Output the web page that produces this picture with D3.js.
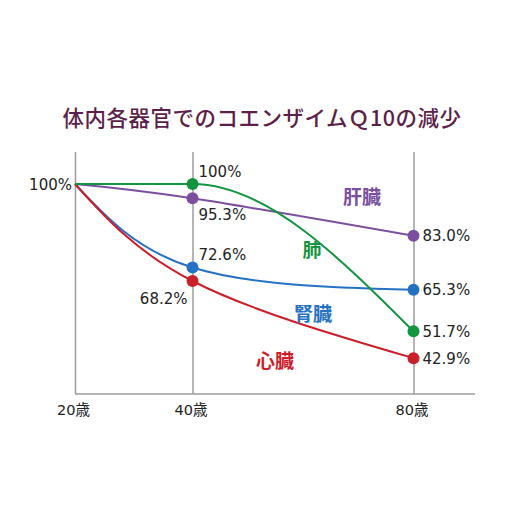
<!DOCTYPE html>
<html>
<head>
<meta charset="utf-8">
<script src="https://cdn.jsdelivr.net/npm/d3@7"></script>
<style>
  body { margin: 0; background: #fff; }
  svg { display: block; font-family: "Noto Sans CJK JP", "Noto Sans", sans-serif; }
  .num { font-family: "DejaVu Sans", "Noto Sans CJK JP", sans-serif; }
</style>
</head>
<body>
<div id="chart"></div>
<script>
// data
const ages = [20, 40, 80];
const ageLabels = ["20歳", "40歳", "80歳"];
const liver = [100, 95.3, 83.0];
const lung = [100, 100, 51.7];
const kidney = [100, 72.6, 65.3];
const heart = [100, 68.2, 42.9];
const seriesNames = ["肝臓", "肺", "腎臓", "心臓"];

const width = 525, height = 525;
const plotTop = 152, plotBottom = 394, plotLeft = 75, plotRight = 475;

const svg = d3.select("#chart").append("svg")
  .attr("width", width)
  .attr("height", height);

svg.append("rect").attr("width", width).attr("height", height).attr("fill", "#fff");

// title
svg.append("text")
  .attr("x", 262)
  .attr("y", 126)
  .attr("text-anchor", "middle")
  .attr("fill", "#5c1f4a")
  .style("font-size", "21.5px")
  .style("font-weight", 500)
  .style("letter-spacing", "0.5px")
  .text("体内各器官でのコエンザイムＱ10の減少");

// the age axis is not to scale in the original, so map each age to its column
const x = d3.scaleLinear().domain(ages).range([plotLeft, 192.5, 413.5]);
const y = d3.scaleLinear().domain([100, 40]).range([184, 367]);

// vertical lines + age labels
const xAxis = d3.axisBottom(x)
  .tickValues(ages)
  .tickFormat((d, i) => ageLabels[i])
  .tickSizeInner(-(plotBottom - plotTop))
  .tickSizeOuter(0)
  .tickPadding(11);

const gx = svg.append("g")
  .attr("transform", `translate(0,${plotBottom})`)
  .call(xAxis);
gx.select(".domain").remove();
gx.selectAll(".tick line").attr("stroke", "#9c9c9c").attr("stroke-width", 1.5);
gx.selectAll(".tick text")
  .attr("class", "num")
  .attr("fill", "#222")
  .attr("dx", -2)
  .style("font-size", "14.5px")
  .style("font-family", null);
gx.attr("font-family", null);

// base line
svg.append("line")
  .attr("x1", plotLeft).attr("x2", plotRight)
  .attr("y1", plotBottom).attr("y2", plotBottom)
  .attr("stroke", "#9c9c9c")
  .attr("stroke-width", 1.5);

// 100% on the left
svg.append("text")
  .attr("class", "num")
  .attr("x", plotLeft - 3)
  .attr("y", y(100) + 6)
  .attr("text-anchor", "end")
  .attr("fill", "#222")
  .style("font-size", "15px")
  .text("100%");

const series = [
  { name: seriesNames[0], values: liver, color: "#7b4f9e", curve: d3.curveNatural },
  { name: seriesNames[2], values: kidney, color: "#2672c2", curve: d3.curveNatural },
  { name: seriesNames[3], values: heart, color: "#cc1f2c", curve: d3.curveNatural },
  { name: seriesNames[1], values: lung, color: "#139440", curve: d3.curveMonotoneX }
];

series.forEach((s) => {
  const line = d3.line()
    .x((d, i) => x(ages[i]))
    .y((d) => y(d))
    .curve(s.curve);

  svg.append("path")
    .datum(s.values)
    .attr("d", line)
    .attr("fill", "none")
    .attr("stroke", s.color)
    .attr("stroke-width", 2);
});

// dots at 40 and 80
series.forEach((s) => {
  svg.selectAll(null)
    .data(s.values.slice(1))
    .enter()
    .append("circle")
    .attr("cx", (d, i) => x(ages[i + 1]))
    .attr("cy", (d) => y(d))
    .attr("r", 6)
    .attr("fill", s.color);
});

const fmt = (v) => (v === 100 ? "100%" : d3.format(".1f")(v) + "%");

// value labels at 40 (placed by hand around each dot like the original)
const midLabels = [
  { v: lung[1], dx: 6, dy: -7, anchor: "start" },
  { v: liver[1], dx: 6, dy: 22, anchor: "start" },
  { v: kidney[1], dx: 6, dy: -8, anchor: "start" },
  { v: heart[1], dx: -5, dy: 23, anchor: "end" }
];
svg.selectAll(".mid")
  .data(midLabels)
  .enter()
  .append("text")
  .attr("class", "num")
  .attr("x", (d) => x(40) + d.dx)
  .attr("y", (d) => y(d.v) + d.dy)
  .attr("text-anchor", (d) => d.anchor)
  .attr("fill", "#222")
  .style("font-size", "15px")
  .text((d) => fmt(d.v));

// value labels at 80
svg.selectAll(".end")
  .data([liver[2], kidney[2], lung[2], heart[2]])
  .enter()
  .append("text")
  .attr("class", "num")
  .attr("x", x(80) + 9)
  .attr("y", (d) => y(d) + 5.5)
  .attr("fill", "#222")
  .style("font-size", "15px")
  .text(fmt);

// organ names
const namePos = [
  { name: seriesNames[0], x: 362, y: 197, color: "#7b4f9e" },
  { name: seriesNames[1], x: 312, y: 250, color: "#139440" },
  { name: seriesNames[2], x: 313, y: 314, color: "#2672c2" },
  { name: seriesNames[3], x: 275, y: 361, color: "#cc1f2c" }
];
svg.selectAll(".name")
  .data(namePos)
  .enter()
  .append("text")
  .attr("x", (d) => d.x)
  .attr("y", (d) => d.y)
  .attr("dy", "0.36em")
  .attr("text-anchor", "middle")
  .attr("fill", (d) => d.color)
  .style("font-size", "19px")
  .style("font-weight", 700)
  .text((d) => d.name);
</script>
</body>
</html>
